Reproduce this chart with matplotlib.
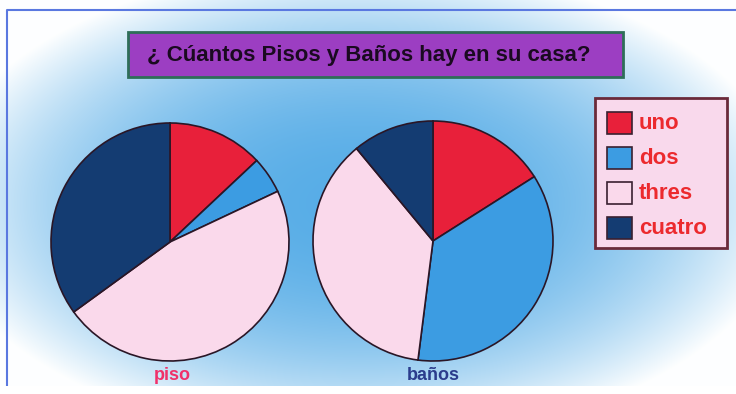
import numpy as np
import matplotlib
matplotlib.use("Agg")
from matplotlib import pyplot as plt
from matplotlib.patches import Rectangle
from matplotlib.colors import to_rgb

# data
categories = ["uno", "dos", "thres", "cuatro"]
piso = [13, 5, 47, 35]
banos = [16, 36, 37, 11]
colors = ["#E8203A", "#3C9CE2", "#FAD9EB", "#143C72"]
title = "¿ Cúantos Pisos y Baños hay en su casa?"
pie_labels = ["piso", "baños"]
label_colors = ["#F0306A", "#2B3C8C"]

W, H = 736, 394
plt.rcParams['font.family'] = ['Liberation Sans', 'DejaVu Sans']

fig = plt.figure(figsize=(W / 100, H / 100), dpi=100)
ax = fig.add_axes([0, 0, 1, 1])
ax.set_xlim(0, W)
ax.set_ylim(0, H)
ax.axis('off')

# soft blue background (y measured from the bottom)
yy, xx = np.mgrid[0:H, 0:W]
d = np.sqrt(((xx - 360) / 430.0) ** 2 + ((yy - 190) / 240.0) ** 2)
t = np.clip(d, 0, 1) ** 2.2
blue = np.array(to_rgb("#52AAE6"))
img = blue[None, None, :] * (1 - t[..., None]) + np.ones(3)[None, None, :] * t[..., None]
img = img * 0.96 + 0.04 * np.array(to_rgb("#E0F8FF"))
ax.imshow(img, extent=(0, W, 0, H), origin='lower', zorder=0, aspect='auto')

# frame lines
ax.plot([7, 7, W], [8, H - 10, H - 10], color="#5A78E0", lw=1.5, zorder=5)

# title box
ax.add_patch(Rectangle((128, H - 77), 495, 45, facecolor="#9C3EC2",
                       edgecolor="#2E6E58", lw=2, zorder=3))
ax.text(369, H - 55, title, ha='center', va='center', fontsize=16,
        fontweight='bold', color="#1A0A20", zorder=4)

# pies
wp = dict(edgecolor="#2A1626", linewidth=1.2)
ax.pie(piso, colors=colors, startangle=90, counterclock=False,
       center=(170, H - 242), radius=119, wedgeprops=wp, frame=True)
ax.pie(banos, colors=colors, startangle=90, counterclock=False,
       center=(433, H - 241), radius=120, wedgeprops=wp, frame=True)

ax.text(172, H - 376, pie_labels[0], ha='center', va='center', fontsize=13,
        fontweight='bold', color=label_colors[0], zorder=11)
ax.text(433, H - 376, pie_labels[1], ha='center', va='center', fontsize=13,
        fontweight='bold', color=label_colors[1], zorder=11)

# legend box
ax.add_patch(Rectangle((595, H - 248), 132, 150, facecolor="#F9D9EC",
                       edgecolor="#6A2A3A", lw=2, zorder=3))
for i, (name, c) in enumerate(zip(categories, colors)):
    yc = H - (123 + 35 * i)
    ax.add_patch(Rectangle((607, yc - 11), 25, 22, facecolor=c,
                           edgecolor="#3A2030", lw=1.2, zorder=4))
    ax.text(639, yc, name, ha='left', va='center', fontsize=16,
            fontweight='bold', color="#EC2A2E", zorder=4)

# image cut at the bottom
ax.add_patch(Rectangle((0, 0), W, H - 386, facecolor="white",
                       edgecolor="none", zorder=10))

ax.set_xlim(0, W)
ax.set_ylim(0, H)
ax.set_aspect('auto')
ax.axis('off')

fig.savefig("out.png", dpi=100)
